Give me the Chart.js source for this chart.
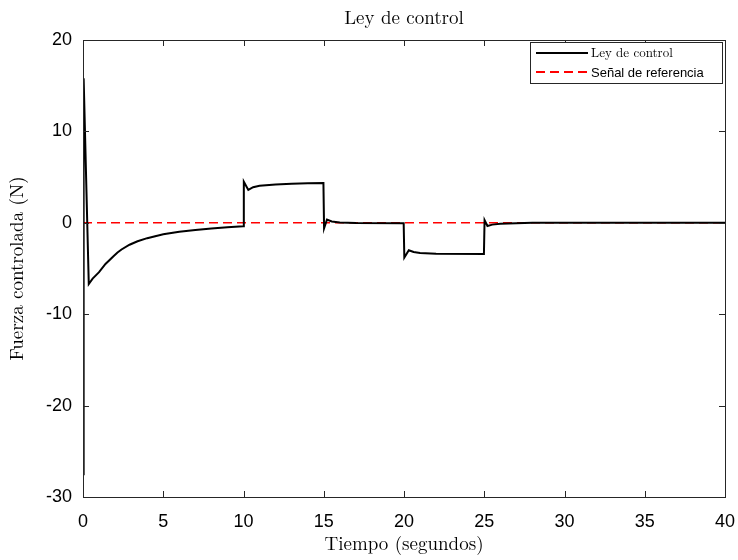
<!DOCTYPE html>
<html>
<head>
    <title>Ley de control</title>
    <script src="https://cdn.jsdelivr.net/npm/chart.js"></script>
    <style>
        body { margin: 0; background: #fff; }
        #wrap { width: 738px; height: 560px; }
    </style>
</head>
<body>
    <div id="wrap"><canvas id="leyChart" width="738" height="560"></canvas></div>
    <script>
// time (s) and control force (N)
const tiempo = [0, 0.04, 0.36, 0.6, 1, 1.4, 1.9, 2.15, 2.4, 2.9, 3.4, 4, 5, 6, 7, 8, 9, 9.98,
    10.02, 10.3, 10.6, 11, 12, 13, 14, 14.98,
    15.02, 15.2, 15.5, 16, 17, 19.98,
    20.02, 20.3, 20.6, 21, 22, 24.98,
    25.02, 25.2, 25.5, 26, 27, 28, 40];
const fuerza = [-27.5, 15.8, -6.7, -6.1, -5.4, -4.5, -3.65, -3.25, -2.92, -2.4, -2.02, -1.68, -1.26, -0.97, -0.8, -0.62, -0.48, -0.38,
    4.5, 3.6, 3.9, 4.05, 4.2, 4.28, 4.32, 4.35,
    -0.6, 0.35, 0.15, 0.03, -0.03, -0.05,
    -3.8, -3.0, -3.2, -3.3, -3.38, -3.42,
    0.3, -0.35, -0.2, -0.1, -0.05, 0, 0];
const refTiempo = [0, 40];
const refValor = [0, 0];
const xTicks = [0, 5, 10, 15, 20, 25, 30, 35, 40];
const yTicks = [-30, -20, -10, 0, 10, 20];

const serif = "'Latin Modern Roman', 'DejaVu Serif', serif";
const sans = "'Liberation Sans', Arial, sans-serif";

// MATLAB-like frame: box, inward ticks, title and legend
const framePlugin = {
    id: 'frame',
    afterDraw(chart) {
        const ctx = chart.ctx;
        const a = chart.chartArea;
        const xs = chart.scales.x, ys = chart.scales.y;
        ctx.save();
        ctx.strokeStyle = '#262626';
        ctx.lineWidth = 1;
        ctx.strokeRect(a.left + 0.5, a.top + 0.5, a.right - a.left, a.bottom - a.top);
        ctx.beginPath();
        xTicks.forEach(v => {
            const p = Math.round(xs.getPixelForValue(v)) + 0.5;
            ctx.moveTo(p, a.bottom); ctx.lineTo(p, a.bottom - 6);
            ctx.moveTo(p, a.top); ctx.lineTo(p, a.top + 6);
        });
        yTicks.forEach(v => {
            const p = Math.round(ys.getPixelForValue(v)) + 0.5;
            ctx.moveTo(a.left, p); ctx.lineTo(a.left + 6, p);
            ctx.moveTo(a.right, p); ctx.lineTo(a.right - 6, p);
        });
        ctx.stroke();

        // title
        ctx.fillStyle = '#000';
        ctx.font = '19px ' + serif;
        ctx.textAlign = 'center';
        ctx.textBaseline = 'alphabetic';
        ctx.fillText('Ley de control', (a.left + a.right) / 2, 24);

        // legend
        const lw = 192, lh = 41;
        const lx = a.right - 3 - lw, ly = 42;
        ctx.fillStyle = '#fff';
        ctx.fillRect(lx, ly, lw, lh);
        ctx.strokeStyle = '#262626';
        ctx.strokeRect(lx + 0.5, ly + 0.5, lw, lh);
        ctx.lineWidth = 2;
        ctx.strokeStyle = '#000';
        ctx.beginPath();
        ctx.moveTo(lx + 6, ly + 11); ctx.lineTo(lx + 58, ly + 11);
        ctx.stroke();
        ctx.strokeStyle = '#ff0000';
        ctx.setLineDash([9, 5]);
        ctx.beginPath();
        ctx.moveTo(lx + 6, ly + 30); ctx.lineTo(lx + 58, ly + 30);
        ctx.stroke();
        ctx.setLineDash([]);
        ctx.fillStyle = '#000';
        ctx.textAlign = 'left';
        ctx.textBaseline = 'middle';
        ctx.font = '13px ' + serif;
        ctx.fillText('Ley de control', lx + 61, ly + 11);
        ctx.font = '13px ' + sans;
        ctx.fillText('Señal de referencia', lx + 61, ly + 31);
        ctx.restore();
    }
};

new Chart(document.getElementById('leyChart'), {
    type: 'line',
    data: {
        datasets: [
            {
                label: 'Ley de control',
                data: tiempo.map((t, i) => ({ x: t, y: fuerza[i] })),
                borderColor: '#000',
                borderWidth: 2,
                pointRadius: 0,
                tension: 0,
                fill: false
            },
            {
                label: 'Señal de referencia',
                data: refTiempo.map((t, i) => ({ x: t, y: refValor[i] })),
                borderColor: '#ff0000',
                borderWidth: 1.6,
                borderDash: [9, 5],
                pointRadius: 0,
                fill: false
            }
        ]
    },
    options: {
        responsive: false,
        animation: false,
        events: [],
        layout: { padding: { top: 40, right: 13, left: 0, bottom: 0 } },
        plugins: { legend: { display: false }, title: { display: false }, tooltip: { enabled: false } },
        scales: {
            x: {
                type: 'linear',
                min: 0, max: 40,
                afterBuildTicks: s => { s.ticks = xTicks.map(v => ({ value: v })); },
                afterFit: s => { s.height = 63; s.paddingLeft = 0; s.paddingRight = 0; },
                grid: { display: false },
                border: { display: false },
                ticks: { color: '#000', font: { family: sans, size: 18 }, padding: 6, maxRotation: 0 },
                title: { display: true, text: 'Tiempo (segundos)', color: '#000', font: { family: serif, size: 19 }, padding: { top: 2 } }
            },
            y: {
                min: -30, max: 20,
                afterBuildTicks: s => { s.ticks = yTicks.map(v => ({ value: v })); },
                afterFit: s => { s.width = 83; s.paddingTop = 0; s.paddingBottom = 0; },
                grid: { display: false },
                border: { display: false },
                ticks: { color: '#000', font: { family: sans, size: 18 }, padding: 3 },
                title: { display: true, text: 'Fuerza controlada (N)', color: '#000', font: { family: serif, size: 19 }, padding: { top: 6, bottom: 0 } }
            }
        }
    },
    plugins: [framePlugin]
});
    </script>
</body>
</html>
